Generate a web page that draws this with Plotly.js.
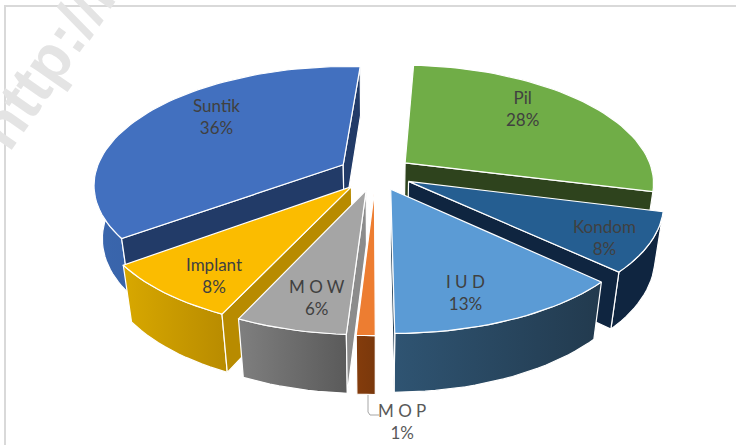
<!DOCTYPE html>
<html><head><meta charset="utf-8">
<script src="https://cdn.plot.ly/plotly-3.0.1.min.js"></script>
<style>html,body{margin:0;padding:0;background:#fff;overflow:hidden}</style>
</head><body><div id="chart" style="width:736px;height:445px"></div>
<script>
// Data
const categories = ["Pil","Kondom","I U D","M O P","M O W","Implant","Suntik"];
const values = [28,8,13,1,6,8,36];
const percentLabels = ["28%","8%","13%","1%","6%","8%","36%"];
// Colours
const topColors = ["#70AD47","#255E91","#5B9BD5","#ED7D31","#A5A5A5","#FBBC00","#4270BF"];
const cutColors = ["#2E431D","#0F2540","#233E55","#843C0C","#8C8C8C","#B88B00","#223B68"];
const wallFrom = ["#2E431D","#0F2540","#2F5472","#843C0C","#7F7F7F","#D8A800","#3A66AD"];
const wallTo   = ["#2E431D","#0F2540","#223A4E","#7A380C","#5A5A5A","#B88B00","#2F5597"];
// Label anchors (axis units)
const labelAnchorX = [522,604,465,402,317,214,216];
const labelAnchorY = [108,237,292,421,297,275,116];
// Projection parameters
const cx=375.5, cy=173, a=248, b=116, p=0.156, px=0.16, q=0.03, D=55, pull=0.15, phi=3.4;
const rad=d=>d*Math.PI/180;
function proj(u,v,z){return [cx+a*u/(1+px*v+q*z), cy-(b*v-D*z)/(1+p*v+q*z)];}
function area(pts){let s=0;pts.forEach((c,i)=>{const d=pts[(i+1)%pts.length];s+=c[0]*d[1]-d[0]*c[1];});return s;}
const paintOrder=[0,6,1,5,2,4,3];
let acc=0; const spans=values.map(val=>{const s=acc;acc+=val;return [s*3.6+phi,acc*3.6+phi];});
const traces=[];
function poly(pts,color,grad){
  const t={x:pts.map(p=>p[0]),y:pts.map(p=>p[1]),mode:'lines',fill:'toself',fillcolor:color,
    line:{color:'#fff',width:1.2},hoverinfo:'skip',showlegend:false,type:'scatter'};
  if(grad)t.fillgradient={type:'horizontal',colorscale:[[0,grad[0]],[1,grad[1]]]};
  traces.push(t);
}
paintOrder.forEach(i=>{
  const [t1,t2]=spans[i],m=rad((t1+t2)/2);
  const eu=pull*Math.sin(m),ev=pull*Math.cos(m);
  const P=(th,r,z)=>proj(eu+r*Math.sin(rad(th)),ev+r*Math.cos(rad(th)),z);
  const arc=[];const n=Math.max(6,Math.round((t2-t1)/2));
  for(let k=0;k<=n;k++)arc.push(t1+(t2-t1)*k/n);
  const wall=arc.map(th=>P(th,1,0)).concat(arc.slice().reverse().map(th=>P(th,1,1)));
  wall.push(wall[0]);
  poly(wall,wallFrom[i],[wallFrom[i],wallTo[i]]);
  const f1=[P(t1,0,0),P(t1,1,0),P(t1,1,1),P(t1,0,1)], f2=[P(t2,0,0),P(t2,1,0),P(t2,1,1),P(t2,0,1)];
  if(area(f1)<0)poly(f1.concat([f1[0]]),cutColors[i]);
  if(area(f2)>0)poly(f2.concat([f2[0]]),cutColors[i]);
  const top=[P(t1,0,0)].concat(arc.map(th=>P(th,1,0)));top.push(top[0]);
  poly(top,topColors[i]);
});
// Frame
traces.push({x:[5,5,736],y:[445,6,6],mode:'lines',line:{color:'#D9D9D9',width:2},hoverinfo:'skip',showlegend:false,type:'scatter'});
// MOP leader
traces.push({x:[368,368,370,379],y:[395,412,415,415],mode:'lines',line:{color:'#A6A6A6',width:1},hoverinfo:'skip',showlegend:false,type:'scatter'});
const annotations=categories.map((c,i)=>({x:labelAnchorX[i],y:labelAnchorY[i],text:c+'<br>'+percentLabels[i],showarrow:false,
  font:{family:'Lato, "Open Sans", sans-serif',size:17,color:i==3?'#595959':'#404040'},align:'center',xref:'x',yref:'y'}));
annotations.push({x:56,y:48,text:'http://m',textangle:-55,showarrow:false,xref:'x',yref:'y',
  font:{family:'"Liberation Sans", sans-serif',size:62,color:'#E4E4E4',weight:700}});
Plotly.newPlot('chart',traces,{width:736,height:445,margin:{l:0,r:0,t:0,b:0},paper_bgcolor:'#fff',plot_bgcolor:'#fff',
  xaxis:{range:[0,736],visible:false,fixedrange:true},yaxis:{range:[445,0],visible:false,fixedrange:true},
  showlegend:false,annotations:annotations},{displayModeBar:false,staticPlot:true});
</script></body></html>
